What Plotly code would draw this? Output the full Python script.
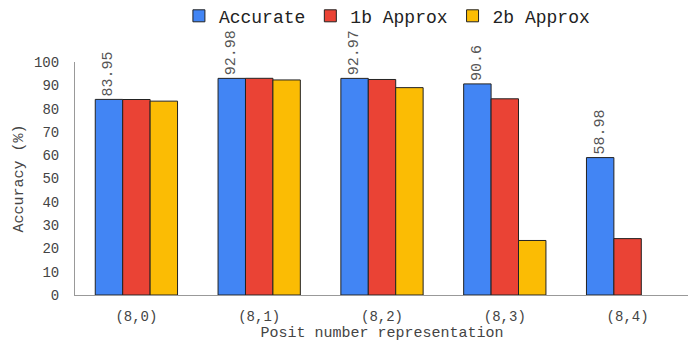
import plotly.graph_objects as go

categories = ["(8,0)", "(8,1)", "(8,2)", "(8,3)", "(8,4)"]
accurate = [83.95, 92.98, 92.97, 90.6, 58.98]
approx_1b = [83.9, 93.0, 92.5, 84.2, 24.2]
approx_2b = [83.2, 92.3, 89.0, 23.4, None]
accurate_labels = ["83.95", "92.98", "92.97", "90.6", "58.98"]
y_ticks = [0, 10, 20, 30, 40, 50, 60, 70, 80, 90, 100]

MONO = "Liberation Mono, Courier New, monospace"
line = dict(color="#222222", width=1)

fig = go.Figure()
fig.add_trace(go.Bar(name="Accurate", x=categories, y=accurate,
                     marker=dict(color="#4285F4", line=line),
                     text=accurate_labels, textposition="outside", textangle=-90,
                     constraintext="none", cliponaxis=False,
                     outsidetextfont=dict(family=MONO, size=15, color="#555555")))
fig.add_trace(go.Bar(name="1b Approx", x=categories, y=approx_1b,
                     marker=dict(color="#EA4335", line=line)))
fig.add_trace(go.Bar(name="2b Approx", x=categories, y=approx_2b,
                     marker=dict(color="#FBBC04", line=line)))

# page body has an 8px default margin, so the figure is sized/shifted to compensate
fig.update_layout(
    width=688, height=334,
    margin=dict(l=67, r=7, t=54, b=47, autoexpand=False),
    paper_bgcolor="white", plot_bgcolor="white",
    barmode="group", bargap=0.33, bargroupgap=0,
    font=dict(family=MONO, size=14, color="#444444"),
    showlegend=True,
    legend=dict(orientation="h", x=0.508, xanchor="center", y=1.197, yanchor="middle",
                bgcolor="rgba(0,0,0,0)",
                font=dict(family=MONO, size=18, color="#222222"),
                itemwidth=30, tracegroupgap=0),
    xaxis=dict(showline=True, linecolor="#999999", linewidth=1, ticks="",
               automargin=False, ticklabelstandoff=8,
               title=dict(text="Posit number representation", standoff=6,
                          font=dict(family=MONO, size=15, color="#444444")),
               tickfont=dict(family=MONO, size=14, color="#444444")),
    yaxis=dict(range=[0, 100], tickvals=y_ticks, showgrid=False, zeroline=False,
               showline=True, linecolor="#999999", linewidth=1, ticks="",
               automargin=False, ticklabelstandoff=12,
               title=dict(text="Accuracy (%)", standoff=6,
                          font=dict(family=MONO, size=15, color="#444444")),
               tickfont=dict(family=MONO, size=14, color="#444444")),
)

fig.write_html("out.html")
